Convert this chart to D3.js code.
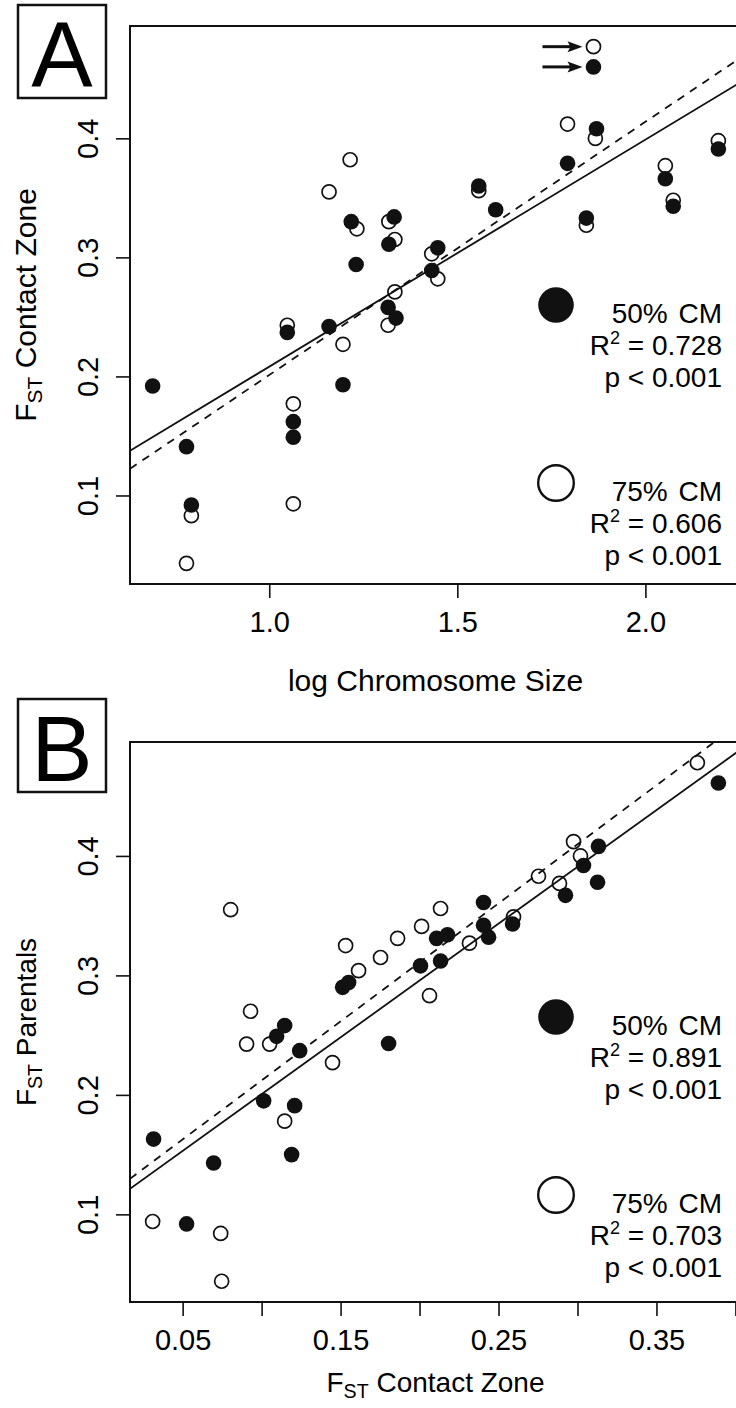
<!DOCTYPE html>
<html>
<head>
<meta charset="utf-8">
<script src="https://cdn.jsdelivr.net/npm/d3@7"></script>
<style>
  body { margin: 0; background: #fff; }
  svg { display: block; }
  text { font-family: "Liberation Sans", Arial, sans-serif; fill: #000; }
</style>
</head>
<body>
<svg></svg>
<script>
// panel A : log chromosome size vs FST contact zone
const sizeA50 = [0.690, 0.780, 0.793, 1.048, 1.064, 1.064, 1.159, 1.196, 1.218, 1.231, 1.316, 1.337, 1.318,
  1.332, 1.432, 1.448, 1.557, 1.602, 1.793, 1.870, 1.862, 1.843, 2.053, 2.074, 2.194]
const fstA50 = [0.192, 0.141, 0.092, 0.237, 0.162, 0.149, 0.242, 0.193, 0.330, 0.294, 0.258, 0.249, 0.311,
  0.334, 0.289, 0.308, 0.360, 0.340, 0.379, 0.408, 0.460, 0.333, 0.366, 0.343, 0.391]
const sizeA75 = [0.780, 0.793, 1.048, 1.064, 1.064, 1.196, 1.159, 1.215, 1.233, 1.318, 1.334, 1.334, 1.316,
  1.432, 1.448, 1.557, 1.793, 1.867, 1.862, 1.843, 2.053, 2.074, 2.194]
const fstA75 = [0.043, 0.083, 0.243, 0.177, 0.093, 0.227, 0.355, 0.382, 0.324, 0.330, 0.315, 0.271, 0.243,
  0.303, 0.282, 0.356, 0.412, 0.400, 0.477, 0.327, 0.377, 0.348, 0.398]

// panel B : FST contact zone vs FST parentals
const czB50 = [0.0316, 0.0525, 0.0696, 0.1013, 0.1095, 0.1146, 0.1190, 0.1209, 0.1241, 0.1513, 0.1551, 0.1804,
  0.2006, 0.2108, 0.2177, 0.2133, 0.2405, 0.2405, 0.2437, 0.2589, 0.2924, 0.3038, 0.3127, 0.3133, 0.3892]
const parB50 = [0.163, 0.092, 0.143, 0.195, 0.249, 0.258, 0.150, 0.191, 0.237, 0.290, 0.294, 0.243,
  0.308, 0.331, 0.334, 0.312, 0.361, 0.342, 0.332, 0.343, 0.367, 0.392, 0.378, 0.408, 0.461]
const czB75 = [0.0310, 0.0741, 0.0747, 0.0804, 0.0905, 0.0930, 0.1051, 0.1146, 0.1449, 0.1532, 0.1614, 0.1753,
  0.1861, 0.2013, 0.2063, 0.2133, 0.2316, 0.2595, 0.2753, 0.2886, 0.2975, 0.3019, 0.3759]
const parB75 = [0.094, 0.084, 0.044, 0.355, 0.2425, 0.270, 0.2425, 0.178, 0.227, 0.325, 0.304, 0.315,
  0.331, 0.341, 0.283, 0.356, 0.327, 0.349, 0.383, 0.377, 0.412, 0.400, 0.478]

// regression lines [intercept, slope]
const fitA50 = [0.0175, 0.1907]
const fitA75 = [-0.0115, 0.2127]
const fitB50 = [0.1055, 0.951]
const fitB75 = [0.1133, 0.988]

const statsA = ["0.728", "0.606"]
const statsB = ["0.891", "0.703"]

const ticksA_x = [1.0, 1.5, 2.0]
const ticksB_x = [0.05, 0.10, 0.15, 0.20, 0.25, 0.30, 0.35, 0.40]
const labelsB_x = [0.05, 0.15, 0.25, 0.35]
const ticksY = [0.1, 0.2, 0.3, 0.4]

const width = 736
const height = 1408

const svg = d3.select('svg')
  .attr('width', width)
  .attr('height', height)

const ink = '#111'

function pad(ext) {
  const r = ext[1] - ext[0]
  return [ext[0] - 0.04 * r, ext[1] + 0.04 * r]
}

function drawPanel(p) {
  const left = 130, right = 741
  const x = d3.scaleLinear().domain(pad(d3.extent(p.x50.concat(p.x75)))).range([left, right])
  const y = d3.scaleLinear().domain(pad(d3.extent(p.y50.concat(p.y75)))).range([p.bottom, p.top])

  const g = svg.append('g')

  g.append('clipPath').attr('id', 'clip' + p.id)
    .append('rect')
    .attr('x', left).attr('y', p.top)
    .attr('width', right - left).attr('height', p.bottom - p.top)

  // open circles (75% CM)
  g.append('g').selectAll('circle')
    .data(p.x75.map((d, i) => [d, p.y75[i]]))
    .enter().append('circle')
      .attr('cx', d => x(d[0]))
      .attr('cy', d => y(d[1]))
      .attr('r', 7)
      .attr('fill', 'none')
      .attr('stroke', ink)
      .attr('stroke-width', 1.7)

  // filled circles (50% CM)
  g.append('g').selectAll('circle')
    .data(p.x50.map((d, i) => [d, p.y50[i]]))
    .enter().append('circle')
      .attr('cx', d => x(d[0]))
      .attr('cy', d => y(d[1]))
      .attr('r', 7.8)
      .attr('fill', ink)

  // fitted lines
  const [x0, x1] = x.domain()
  const fits = [{ f: p.fit50, dash: null }, { f: p.fit75, dash: '8,7' }]
  g.append('g').attr('clip-path', 'url(#clip' + p.id + ')')
    .selectAll('line')
    .data(fits)
    .enter().append('line')
      .attr('x1', x(x0)).attr('x2', x(x1))
      .attr('y1', d => y(d.f[0] + d.f[1] * x0))
      .attr('y2', d => y(d.f[0] + d.f[1] * x1))
      .attr('stroke', ink)
      .attr('stroke-width', 1.8)
      .attr('stroke-dasharray', d => d.dash)

  // box
  g.append('rect')
    .attr('x', left).attr('y', p.top)
    .attr('width', right - left).attr('height', p.bottom - p.top)
    .attr('fill', 'none').attr('stroke', ink).attr('stroke-width', 2)

  // x axis
  const xa = g.append('g')
    .attr('transform', 'translate(0,' + p.bottom + ')')
    .call(d3.axisBottom(x).tickValues(p.xticks).tickSize(14).tickSizeOuter(0).tickFormat(p.xfmt))
  xa.select('.domain').remove()
  xa.attr('font-size', 29).attr('font-family', null)
  xa.selectAll('line').attr('stroke', ink).attr('stroke-width', 1.6)
  xa.selectAll('text').attr('y', 27).attr('fill', ink)

  // y axis
  const ya = g.append('g')
    .attr('transform', 'translate(' + left + ',0)')
    .call(d3.axisLeft(y).tickValues(ticksY).tickSize(14).tickSizeOuter(0).tickFormat(d3.format('.1f')))
  ya.select('.domain').remove()
  ya.attr('font-size', 29).attr('font-family', null)
  ya.selectAll('line').attr('stroke', ink).attr('stroke-width', 1.6)
  ya.selectAll('text')
    .attr('transform', 'rotate(-90)')
    .attr('x', 0).attr('y', -32).attr('dy', null)
    .attr('text-anchor', 'middle')
    .attr('fill', ink)

  // axis titles
  const xt = g.append('text')
    .attr('x', (left + right) / 2).attr('y', p.xtitleY)
    .attr('text-anchor', 'middle').attr('font-size', p.xtitleSize)
  p.xtitle(xt)

  const yt = g.append('text')
    .attr('transform', 'translate(36,' + ((p.top + p.bottom) / 2) + ') rotate(-90)')
    .attr('text-anchor', 'middle').attr('font-size', p.ytitleSize)
  fstLabel(yt, p.ytitle)

  // panel letter
  g.append('rect')
    .attr('x', 18).attr('y', p.boxTop)
    .attr('width', 88).attr('height', 93)
    .attr('fill', 'none').attr('stroke', ink).attr('stroke-width', 2.5)
  g.append('text')
    .attr('x', 62).attr('y', p.boxTop + 82)
    .attr('text-anchor', 'middle').attr('font-size', 92)
    .text(p.id)

  // legend
  const lx = 556, tx = 722
  const rows = [
    { cy: p.legY, fill: ink, lab: '50% CM', r2: p.stats[0] },
    { cy: p.legY + 178, fill: 'none', lab: '75% CM', r2: p.stats[1] }
  ]
  rows.forEach(r => {
    g.append('circle')
      .attr('cx', lx).attr('cy', r.cy).attr('r', 17.8)
      .attr('fill', r.fill).attr('stroke', ink).attr('stroke-width', r.fill === 'none' ? 2.4 : 0)
    g.append('text').attr('x', tx).attr('y', r.cy + 18)
      .attr('text-anchor', 'end').attr('font-size', 28).attr('word-spacing', 3).text(r.lab)
    const t2 = g.append('text').attr('x', tx).attr('y', r.cy + 50)
      .attr('text-anchor', 'end').attr('font-size', 28)
    t2.append('tspan').text('R')
    t2.append('tspan').attr('font-size', 18).attr('dy', -11).text('2')
    t2.append('tspan').attr('dy', 11).text(' = ' + r.r2)
    g.append('text').attr('x', tx).attr('y', r.cy + 82)
      .attr('text-anchor', 'end').attr('font-size', 28).text('p < 0.001')
  })

  return { g, x, y }
}

function fstLabel(t, rest) {
  t.append('tspan').text('F')
  t.append('tspan').attr('font-size', '0.7em').attr('dy', 6).text('ST')
  t.append('tspan').attr('dy', -6).text(' ' + rest)
}

const A = drawPanel({
  id: 'A', top: 26, bottom: 584, boxTop: 5, legY: 305,
  x50: sizeA50, y50: fstA50, x75: sizeA75, y75: fstA75,
  fit50: fitA50, fit75: fitA75, stats: statsA,
  xticks: ticksA_x, xfmt: d3.format('.1f'),
  xtitleY: 691, xtitleSize: 30, xtitle: t => t.text('log Chromosome Size'),
  ytitleSize: 30, ytitle: 'Contact Zone'
})

const B = drawPanel({
  id: 'B', top: 742, bottom: 1302, boxTop: 699, legY: 1017,
  x50: czB50, y50: parB50, x75: czB75, y75: parB75,
  fit50: fitB50, fit75: fitB75, stats: statsB,
  xticks: ticksB_x, xfmt: d => labelsB_x.some(v => Math.abs(v - d) < 1e-9) ? d3.format('.2f')(d) : '',
  xtitleY: 1392, xtitleSize: 28, xtitle: t => fstLabel(t, 'Contact Zone'),
  ytitleSize: 28, ytitle: 'Parentals'
})

// arrows pointing at the two highest values in panel A
const tops = [
  [sizeA75[d3.maxIndex(fstA75)], d3.max(fstA75)],
  [sizeA50[d3.maxIndex(fstA50)], d3.max(fstA50)]
]
tops.forEach(d => {
  const px = A.x(d[0]), py = A.y(d[1])
  A.g.append('line')
    .attr('x1', px - 51).attr('x2', px - 22)
    .attr('y1', py).attr('y2', py)
    .attr('stroke', ink).attr('stroke-width', 3)
  A.g.append('path')
    .attr('d', 'M' + (px - 11) + ',' + py + 'L' + (px - 26) + ',' + (py - 5.5) + 'L' + (px - 23) + ',' + py + 'L' + (px - 26) + ',' + (py + 5.5) + 'Z')
    .attr('fill', ink)
})
</script>
</body>
</html>
